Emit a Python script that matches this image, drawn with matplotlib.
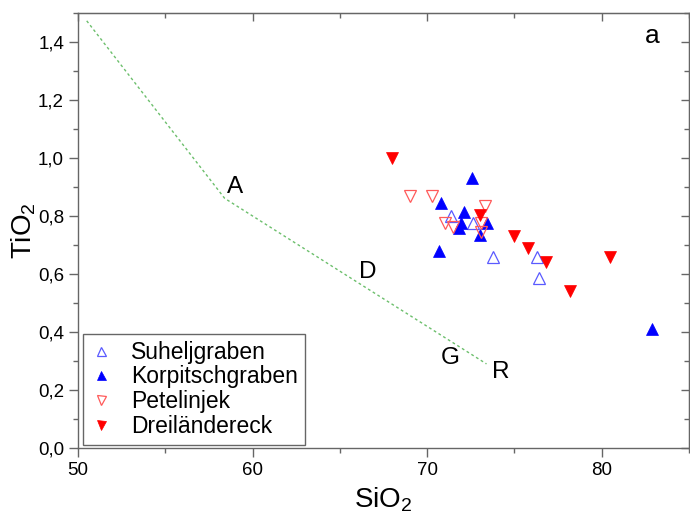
import matplotlib as mpl
mpl.use("Agg")
import matplotlib.pyplot as plt
from matplotlib.ticker import MultipleLocator, FuncFormatter

mpl.rcParams.update({
    "font.family": ["Liberation Sans", "DejaVu Sans"],
    "mathtext.fontset": "custom",
    "mathtext.rm": "Liberation Sans",
    "mathtext.it": "Liberation Sans:italic",
    "mathtext.bf": "Liberation Sans:bold",
})

# ---- data (SiO2, TiO2) ----
suhel_x = [71.35, 72.65, 73.8, 76.3, 76.4]
suhel_y = [0.80, 0.775, 0.66, 0.66, 0.585]

korp_x = [72.55, 70.8, 72.1, 71.95, 71.85, 73.45, 73.0, 70.7, 82.9]
korp_y = [0.93, 0.845, 0.815, 0.775, 0.76, 0.777, 0.733, 0.68, 0.41]

petel_x = [69.0, 70.3, 73.3, 71.05, 71.5, 73.1, 73.1]
petel_y = [0.87, 0.87, 0.835, 0.775, 0.763, 0.775, 0.745]

drei_x = [68.0, 73.0, 75.0, 75.8, 76.8, 78.2, 80.5]
drei_y = [1.00, 0.805, 0.73, 0.69, 0.64, 0.54, 0.66]

# boundary line and its field labels
line_x = [50.5, 58.4, 73.4]
line_y = [1.473, 0.861, 0.29]
field_labels = ["A", "D", "G", "R"]
field_x = [59.0, 66.6, 71.3, 74.2]
field_y = [0.90, 0.608, 0.309, 0.263]

GRID = "#666666"

fig = plt.figure(figsize=(6.9, 5.18), dpi=100)
ax = fig.add_axes([78/690, 70/518, 611/690, 435/518])

ax.plot(line_x, line_y, color="#6cbf6c", lw=1.0, ls=(0, (2.0, 2.0)), zorder=1)
for lab, x, y in zip(field_labels, field_x, field_y):
    ax.text(x, y, lab, fontsize=17.5, ha="center", va="center", color="black")
ax.text(82.9, 1.42, "a", fontsize=19, ha="center", va="center", color="black")

ms = 9
ax.plot(suhel_x, suhel_y, ls="none", marker="^", ms=ms, mfc="none", mec="#5a5aff",
        mew=0.9, label="Suheljgraben", zorder=3)
ax.plot(korp_x, korp_y, ls="none", marker="^", ms=ms, mfc="#0000ff", mec="#0000ff",
        mew=0.5, label="Korpitschgraben", zorder=3)
ax.plot(petel_x, petel_y, ls="none", marker="v", ms=ms, mfc="none", mec="#ff5a5a",
        mew=0.9, label="Petelinjek", zorder=3)
ax.plot(drei_x, drei_y, ls="none", marker="v", ms=ms, mfc="#ff0000", mec="#ff0000",
        mew=0.5, label="Dreiländereck", zorder=3)

ax.set_xlim(50, 85)
ax.set_ylim(0, 1.5)
ax.xaxis.set_major_locator(MultipleLocator(10))
ax.xaxis.set_minor_locator(MultipleLocator(5))
ax.yaxis.set_major_locator(MultipleLocator(0.2))
ax.yaxis.set_minor_locator(MultipleLocator(0.1))
ax.yaxis.set_major_formatter(FuncFormatter(lambda v, p: f"{v:.1f}".replace(".", ",")))

for s in ax.spines.values():
    s.set_color(GRID)
    s.set_linewidth(1.0)
ax.tick_params(which="both", colors=GRID, labelcolor="black", labelsize=13.5, width=1.0,
               direction="out", top=False, right=False)
ax.tick_params(which="major", length=6.5)
ax.tick_params(which="minor", length=3.5)

# mirrored inward ticks on top and right
axt = ax.secondary_xaxis("top")
axr = ax.secondary_yaxis("right")
axt.xaxis.set_major_locator(MultipleLocator(10))
axt.xaxis.set_minor_locator(MultipleLocator(5))
axr.yaxis.set_major_locator(MultipleLocator(0.2))
axr.yaxis.set_minor_locator(MultipleLocator(0.1))
for sec in (axt, axr):
    sec.tick_params(which="both", direction="in", colors=GRID, width=1.0)
    sec.tick_params(which="major", length=6.0)
    sec.tick_params(which="minor", length=3.5)
    for s in sec.spines.values():
        s.set_color(GRID)
axt.set_xticklabels([])
axr.set_yticklabels([])

ax.set_xlabel("SiO$_2$", fontsize=20, labelpad=5)
ax.set_ylabel("TiO$_2$", fontsize=20, labelpad=0)

leg = ax.legend(loc="lower left", bbox_to_anchor=(0.008, 0.007), borderaxespad=0,
                fontsize=16.5, markerscale=0.72, handlelength=1.0, handletextpad=0.8,
                labelspacing=0.08, borderpad=0.3, fancybox=False, framealpha=1)
leg.get_frame().set_edgecolor(GRID)
leg.get_frame().set_linewidth(1.0)

fig.savefig("out.png", dpi=100)
